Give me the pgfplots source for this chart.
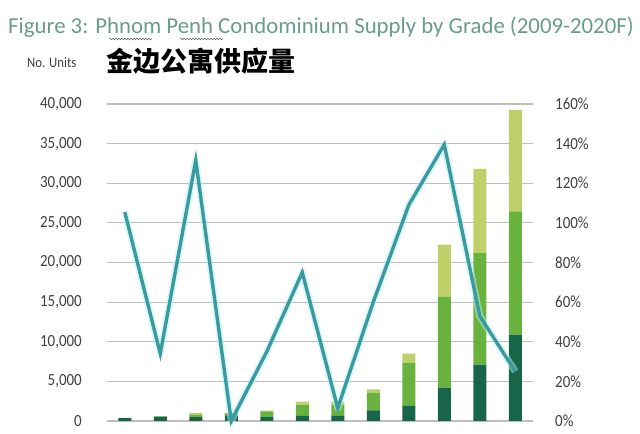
\documentclass[border=0pt]{standalone}
\usepackage{fontspec}
\setmainfont{Carlito}
\newfontfamily\tickfont[FakeStretch=0.88]{Carlito}
\newfontfamily\cjk{Noto Sans CJK SC}
\usepackage{pgfplots}
\pgfplotsset{compat=1.18}
\usetikzlibrary{decorations.pathmorphing}

\definecolor{gdark}{HTML}{17664A}
\definecolor{gmid}{HTML}{6AB23E}
\definecolor{glight}{HTML}{BFD06A}
\definecolor{tealline}{HTML}{3A9AA0}
\definecolor{glow}{HTML}{B8F2F4}
\definecolor{titlecol}{HTML}{6A9C8C}
\definecolor{ticktext}{HTML}{404040}

\begin{document}
\begin{tikzpicture}[x=1bp, y=1bp]
    \useasboundingbox (0,0) rectangle (640,434);

    \node[anchor=base west, inner sep=0, text=titlecol, font=\fontsize{22.8bp}{24bp}\selectfont]
        at (8,400) {Figure 3: Phnom Penh Condominium Supply by Grade (2009-2020F)};
    % spell-check squiggles under Phnom and Penh
    \draw[black!60, line width=0.6bp, decorate,
          decoration={snake, amplitude=0.8bp, segment length=3bp}]
        (109,395) -- (152,395);
    \draw[black!60, line width=0.6bp, decorate,
          decoration={snake, amplitude=0.8bp, segment length=3bp}]
        (180,395) -- (223,395);

    \node[anchor=west, inner sep=0, text=ticktext, font=\tickfont\fontsize{14.5bp}{16bp}\selectfont]
        at (27,371) {No. Units};
    \node[anchor=west, inner sep=0, font=\cjk\bfseries\fontsize{27bp}{29bp}\selectfont]
        at (106,373) {金边公寓供应量};

    \begin{axis}[
            at={(107bp,13bp)}, anchor=south west,
            width=426bp, height=317bp, scale only axis,
            xmin=-0.5, xmax=11.5,
            ymin=0, ymax=40000,
            ybar stacked, bar width=13bp,
            xtick=\empty,
            ytick={0,5000,...,40000},
            ymajorgrids,
            grid style={draw=black!25, line width=1.2bp},
            axis line style={draw=none},
            major tick length=0pt,
            /pgf/number format/1000 sep={,},
            /pgf/number format/assume math mode=true,
            yticklabel style={anchor=east, inner sep=0pt, xshift=-25bp,
                text=ticktext, font=\tickfont\fontsize{17bp}{19bp}\selectfont},
            scaled y ticks=false,
        ]
        % grade shares (units), bottom to top
        \addplot[fill=gdark, draw=none] coordinates {
            (0,350) (1,550) (2,500) (3,700) (4,500) (5,650)
            (6,650) (7,1350) (8,1900) (9,4200) (10,7100) (11,10900)
        };
        \addplot[fill=gmid, draw=none] coordinates {
            (0,50) (1,0) (2,300) (3,300) (4,700) (5,1400)
            (6,1350) (7,2220) (8,5450) (9,11500) (10,14070) (11,15550)
        };
        \addplot[fill=glight, draw=none] coordinates {
            (0,0) (1,50) (2,200) (3,0) (4,100) (5,400)
            (6,450) (7,430) (8,1150) (9,6550) (10,10650) (11,12800)
        };
    \end{axis}

    \begin{axis}[
            at={(107bp,13bp)}, anchor=south west,
            width=426bp, height=317bp, scale only axis,
            xmin=-0.5, xmax=11.5,
            ymin=0, ymax=160,
            axis y line*=right,
            axis x line=none,
            axis line style={draw=none},
            major tick length=0pt,
            ytick={0,20,...,160},
            yticklabel={\pgfmathprintnumber{\tick}\%},
            /pgf/number format/assume math mode=true,
            yticklabel style={anchor=west, inner sep=0pt, xshift=22bp,
                text=ticktext, font=\tickfont\fontsize{17bp}{19bp}\selectfont},
            clip=false,
        ]
        \addplot[glow, line width=7bp, opacity=0.5, line join=round] coordinates {
            (0,105.5) (1,34) (2,131.5) (3,0) (4,35) (5,75)
            (6,6.5) (7,60) (8,109) (9,139.5) (10,53) (11,25)
        };
        \addplot[tealline, line width=3.4bp, line join=miter] coordinates {
            (0,105.5) (1,34) (2,131.5) (3,0) (4,35) (5,75)
            (6,6.5) (7,60) (8,109) (9,139.5) (10,53) (11,25)
        };
    \end{axis}
\end{tikzpicture}
\end{document}
